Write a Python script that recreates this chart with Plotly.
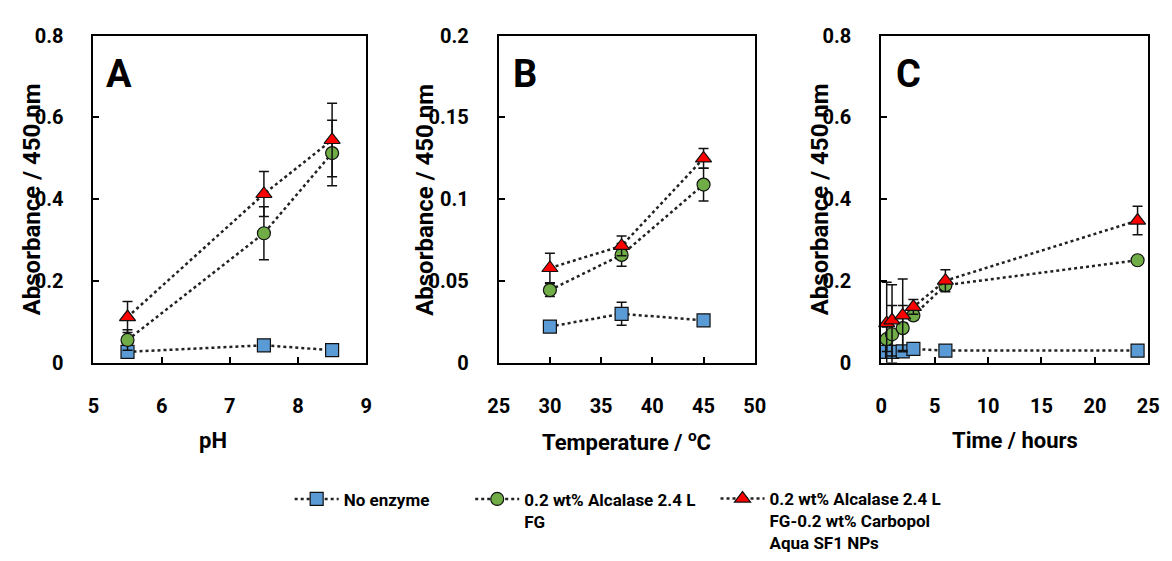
import plotly.graph_objects as go

# pH series
ph = [5.5, 7.5, 8.5]
ph_none = [0.027, 0.043, 0.031]
ph_none_err = [0.005, 0.006, 0.004]
ph_alc = [0.056, 0.317, 0.513]
ph_alc_err = [0.025, 0.065, 0.08]
ph_np = [0.112, 0.413, 0.545]
ph_np_err = [0.038, 0.055, 0.09]

# temperature series
temp = [30, 37, 45]
temp_none = [0.0222, 0.030, 0.026]
temp_none_err = [0.002, 0.007, 0.002]
temp_alc = [0.0445, 0.066, 0.109]
temp_alc_err = [0.004, 0.007, 0.010]
temp_np = [0.058, 0.0715, 0.125]
temp_np_err = [0.009, 0.006, 0.006]

# time series
time_h = [0.5, 1, 2, 3, 6, 24]
time_none = [0.027, 0.027, 0.028, 0.034, 0.030, 0.030]
time_none_err = [0.003, 0.003, 0.003, 0.004, 0.003, 0.003]
time_alc = [0.058, 0.070, 0.085, 0.116, 0.190, 0.251]
time_alc_err = [0.03, 0.07, 0.055, 0.01, 0.01, 0.008]
time_np = [0.097, 0.104, 0.116, 0.137, 0.201, 0.348]
time_np_err = [0.10, 0.087, 0.089, 0.018, 0.027, 0.035]

series_names = [
    "No enzyme",
    "0.2 wt% Alcalase 2.4 L<br>FG",
    "0.2 wt% Alcalase 2.4 L<br>FG-0.2 wt% Carbopol<br>Aqua SF1 NPs",
]
panel_labels = ["A", "B", "C"]
x_titles = ["pH", "Temperature / <sup>o</sup>C", "Time / hours"]
y_title = "Absorbance / 450 nm"

W, H = 1172, 561
FONT = "Roboto, sans-serif"

styles = [
    dict(symbol="square", color="#5B9BD5", size=13),
    dict(symbol="circle", color="#70AD47", size=13),
    dict(symbol="triangle-up", color="#FF0000", size=14),
]

# plot boxes in pixels: (left, right)
boxes = [(84, 362), (497, 758), (887, 1159)]
top_px, bottom_px = 25, 370

panels = [
    (ph, [(ph_none, ph_none_err), (ph_alc, ph_alc_err), (ph_np, ph_np_err)]),
    (temp, [(temp_none, temp_none_err), (temp_alc, temp_alc_err), (temp_np, temp_np_err)]),
    (time_h, [(time_none, time_none_err), (time_alc, time_alc_err), (time_np, time_np_err)]),
]

fig = go.Figure()
legend_ids = ["legend", "legend2", "legend3"]

for p, (xs, sets) in enumerate(panels):
    xa = "x" if p == 0 else f"x{p + 1}"
    ya = "y" if p == 0 else f"y{p + 1}"
    for s, (ys, es) in enumerate(sets):
        st = styles[s]
        fig.add_trace(go.Scatter(
            x=xs, y=ys, xaxis=xa, yaxis=ya,
            mode="lines+markers",
            name=series_names[s],
            legend=legend_ids[s],
            showlegend=(p == 0),
            line=dict(color="#222222", width=2.5, dash="dot"),
            marker=dict(symbol=st["symbol"], color=st["color"], size=st["size"],
                        line=dict(color="#111111", width=1.2)),
            error_y=dict(type="data", array=es, visible=True, color="#111111",
                         thickness=1.5, width=5),
            cliponaxis=False,
        ))

axis_common = dict(
    showline=True, mirror=True, linecolor="black", linewidth=2,
    ticks="inside", ticklen=6, tickwidth=1.5, tickcolor="black",
    showgrid=False, zeroline=False,
    tickfont=dict(family=FONT, size=20, color="black", weight="bold"),
)

x_ranges = [[5, 9], [25, 50], [0, 25]]
x_dticks = [1, 5, 5]
y_ranges = [[0, 0.8], [0, 0.2], [0, 0.8]]
y_dticks = [0.2, 0.05, 0.2]

layout = dict(
    width=W, height=H, autosize=False,
    margin=dict(l=0, r=0, t=0, b=0),
    paper_bgcolor="white", plot_bgcolor="white",
    font=dict(family=FONT, color="black"),
)

ydom = [1 - bottom_px / H, 1 - top_px / H]
for p in range(3):
    l, r = boxes[p]
    xk = "xaxis" if p == 0 else f"xaxis{p + 1}"
    yk = "yaxis" if p == 0 else f"yaxis{p + 1}"
    layout[xk] = dict(axis_common, domain=[l / W, r / W], range=x_ranges[p],
                      dtick=x_dticks[p], tick0=0, ticklabelstandoff=24,
                      anchor="y" if p == 0 else f"y{p + 1}")
    layout[yk] = dict(axis_common, domain=ydom, range=y_ranges[p],
                      dtick=y_dticks[p], tick0=0, ticklabelstandoff=24,
                      anchor="x" if p == 0 else f"x{p + 1}")

fig.update_layout(**layout)

# axis titles and panel letters
ytitle_x = [21, 422, 824]
xtitle_x = [206, 627, 1023]
letter_x = [110, 524, 915]
for p in range(3):
    fig.add_annotation(text=y_title, xref="paper", yref="paper",
                       x=ytitle_x[p] / W, y=1 - 198 / H, textangle=-90,
                       showarrow=False, xanchor="center", yanchor="middle",
                       font=dict(family=FONT, size=24, weight="bold", color="black"))
    fig.add_annotation(text=x_titles[p], xref="paper", yref="paper",
                       x=xtitle_x[p] / W, y=1 - 452 / H,
                       showarrow=False, xanchor="center", yanchor="middle",
                       font=dict(family=FONT, size=22, weight="bold", color="black"))
    fig.add_annotation(text=panel_labels[p], xref="paper", yref="paper",
                       x=letter_x[p] / W, y=1 - 65 / H,
                       showarrow=False, xanchor="center", yanchor="middle",
                       font=dict(family=FONT, size=38, weight="bold", color="black"))

legend_x = [284, 468, 718]
legend_top = 495
leg_font = dict(family=FONT, size=17, weight="bold", color="black")
leg_common = dict(y=1 - legend_top / H, xanchor="left", yanchor="top",
                  font=leg_font, valign="top", bgcolor="rgba(0,0,0,0)",
                  itemwidth=44)
fig.update_layout(
    legend=dict(leg_common, x=legend_x[0] / W),
    legend2=dict(leg_common, x=legend_x[1] / W),
    legend3=dict(leg_common, x=legend_x[2] / W),
)

fig.write_html("out.html")
